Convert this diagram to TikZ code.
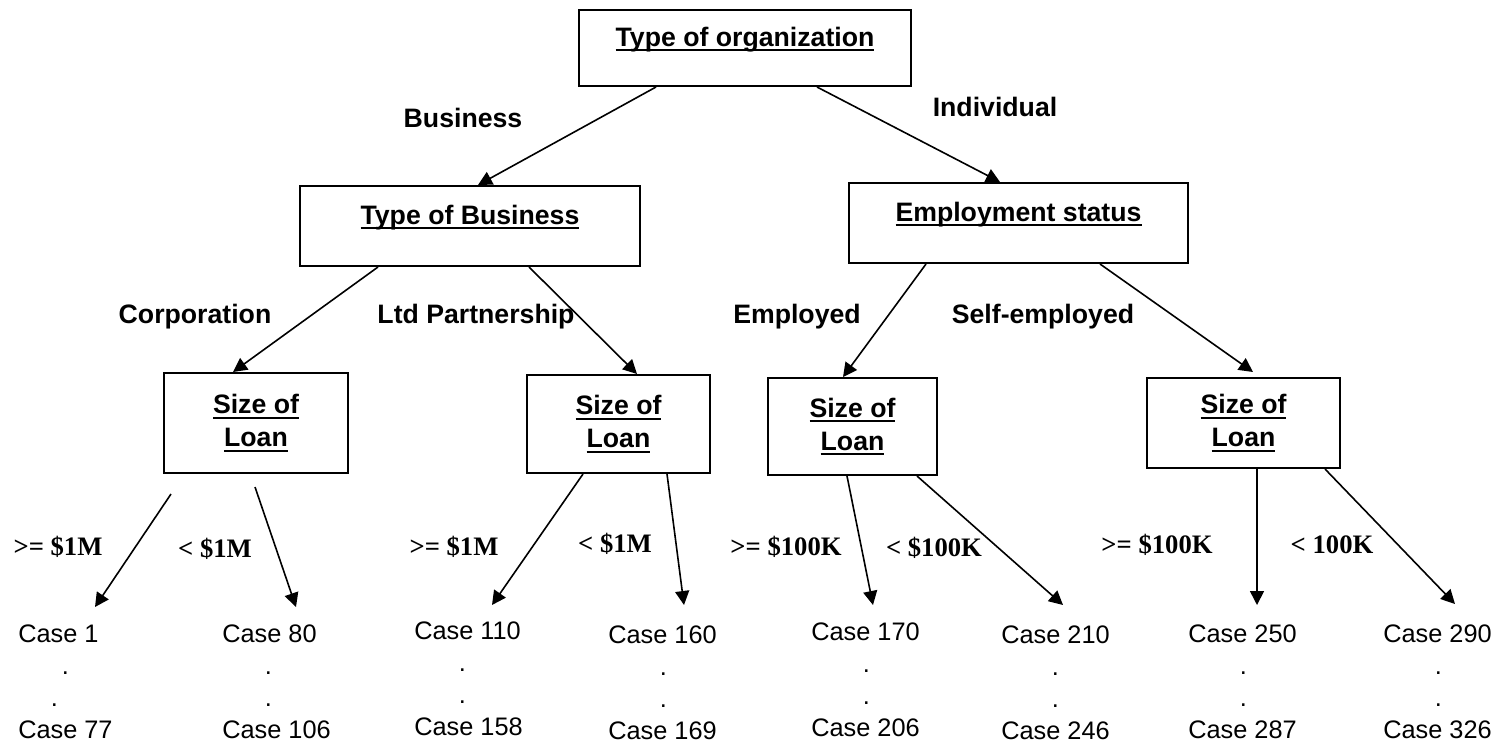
\documentclass[tikz,border=0pt]{standalone}
\usepackage{fontspec}
\setmainfont{Liberation Sans}
\newfontfamily\timesfont{Liberation Serif}
\usepackage{tikz}
\usetikzlibrary{arrows.meta,calc}
% one pixel of the drawing
\newlength{\pxu}
\setlength{\pxu}{0.75pt}
% underline that runs through the descenders
\newsavebox{\ulsave}
\newcommand{\uln}[1]{\sbox{\ulsave}{#1}\rlap{\rule[-3.6pt]{\wd\ulsave}{1.4pt}}\usebox{\ulsave}}
% dot shifted in from the left of a leaf
\newcommand{\dotat}[1]{\hspace*{#1\pxu}.}

\begin{document}
\begin{tikzpicture}[x=0.75pt,y=-0.75pt]
% node style definition
\tikzstyle{block} = [
	draw, rectangle, line width=1.5pt, align=center, inner sep=0pt,
	font=\bfseries\fontsize{20}{24.75}\selectfont ];
\tikzstyle{single} = [text height=14pt, text depth=17pt];
\tikzstyle{branch} = [anchor=base, inner sep=0pt, font=\bfseries\fontsize{20}{24}\selectfont];
\tikzstyle{cond} = [anchor=base, inner sep=0pt, font=\timesfont\bfseries\fontsize{20}{24}\selectfont];
\tikzstyle{leaf} = [anchor=north west, align=left, inner sep=0pt, font=\fontsize{19}{24}\selectfont];
\tikzstyle{arr} = [line width=1.2pt, -{Triangle[length=10.5pt,width=10.5pt]}];
\useasboundingbox (0,0) rectangle (1508,744);

% decision boxes
\node[block, single, minimum width=332*\pxu, minimum height=76*\pxu] (org) at (745,48) {\uln{Type of organization}};
\node[block, single, minimum width=340*\pxu, minimum height=80*\pxu] (biz) at (470,226) {\uln{Type of Business}};
\node[block, single, minimum width=339*\pxu, minimum height=80*\pxu] (emp) at (1018.5,223) {\uln{Employment status}};
\node[block, minimum width=184*\pxu, minimum height=100*\pxu] (corp) at (256,423) {\uln{Size of}\\\uln{Loan}};
\node[block, minimum width=183*\pxu, minimum height=98*\pxu] (ltd) at (618.5,424) {\uln{Size of}\\\uln{Loan}};
\node[block, minimum width=169*\pxu, minimum height=97*\pxu] (empl) at (852.5,426.5) {\uln{Size of}\\\uln{Loan}};
\node[block, minimum width=193*\pxu, minimum height=90*\pxu] (self) at (1243.5,423) {\uln{Size of}\\\uln{Loan}};

% branch labels
\node[branch] (lbiz) at (463,127) {Business};
\node[branch] (lind) at (995,116) {Individual};
\node[branch] (lcorp) at (195,323) {Corporation};
\node[branch] (lltd) at (476,323) {Ltd Partnership};
\node[branch] (lempl) at (797,323) {Employed};
\node[branch] (lself) at (1043,323) {Self-employed};

% loan size labels
\node[cond] (q1) at (58,555) {>= \$1M};
\node[cond] (q2) at (215,557) {< \$1M};
\node[cond] (q3) at (454,555) {>= \$1M};
\node[cond] (q4) at (615,552) {< \$1M};
\node[cond] (q5) at (786,555) {>= \$100K};
\node[cond] (q6) at (934,556) {< \$100K};
\node[cond] (q7) at (1157,553) {>= \$100K};
\node[cond] (q8) at (1332,553) {< 100K};

% leaves
\node[leaf] (c1) at (18,625) {Case 1\\\dotat{43.5}\\\dotat{32.5}\\Case 77};
\node[leaf] (c2) at (222,625) {Case 80\\\dotat{42.5}\\\dotat{42.5}\\Case 106};
\node[leaf] (c3) at (414,622) {Case 110\\\dotat{44.5}\\\dotat{44.5}\\Case 158};
\node[leaf] (c4) at (608,626) {Case 160\\\dotat{51.5}\\\dotat{51.5}\\Case 169};
\node[leaf] (c5) at (811,623) {Case 170\\\dotat{51.5}\\\dotat{51.5}\\Case 206};
\node[leaf] (c6) at (1001,626) {Case 210\\\dotat{50.5}\\\dotat{50.5}\\Case 246};
\node[leaf] (c7) at (1188,625) {Case 250\\\dotat{51.5}\\\dotat{51.5}\\Case 287};
\node[leaf] (c8) at (1383,625) {Case 290\\\dotat{51.5}\\\dotat{51.5}\\Case 326};

% connectors
\draw[arr] ($(org.south)+(-89,0)$) -- ($(biz.north)+(8,0)$);
\draw[arr] ($(org.south)+(72,0)$) -- ($(emp.north)+(-18.5,0)$);
\draw[arr] ($(biz.south)+(-92,0)$) -- ($(corp.north)+(-23,0)$);
\draw[arr] ($(biz.south)+(59,0)$) -- ($(ltd.north)+(18.5,0)$);
\draw[arr] ($(emp.south)+(-92.5,0)$) -- ($(empl.north)+(-9.5,0)$);
\draw[arr] ($(emp.south)+(81.5,0)$) -- ($(self.north)+(9.5,-5)$);

\draw[arr] ($(corp.south)+(-85,20)$) -- ($(c1.north west)+(77,-18)$);
\draw[arr] ($(corp.south)+(-1,13)$) -- ($(c2.north west)+(74,-18)$);
\draw[arr] ($(ltd.south)+(-35.5,0)$) -- ($(c3.north west)+(78,-17)$);
\draw[arr] ($(ltd.south)+(48.5,0)$) -- ($(c4.north west)+(76,-21)$);
\draw[arr] ($(empl.south)+(-5.5,0)$) -- ($(c5.north west)+(62,-18)$);
\draw[arr] ($(empl.south)+(64.5,0)$) -- ($(c6.north west)+(62,-21)$);
\draw[arr] ($(self.south)+(13.5,0)$) -- ($(c7.north west)+(69,-20)$);
\draw[arr] ($(self.south)+(81.5,0)$) -- ($(c8.north west)+(72,-21)$);

\end{tikzpicture}
\end{document}
